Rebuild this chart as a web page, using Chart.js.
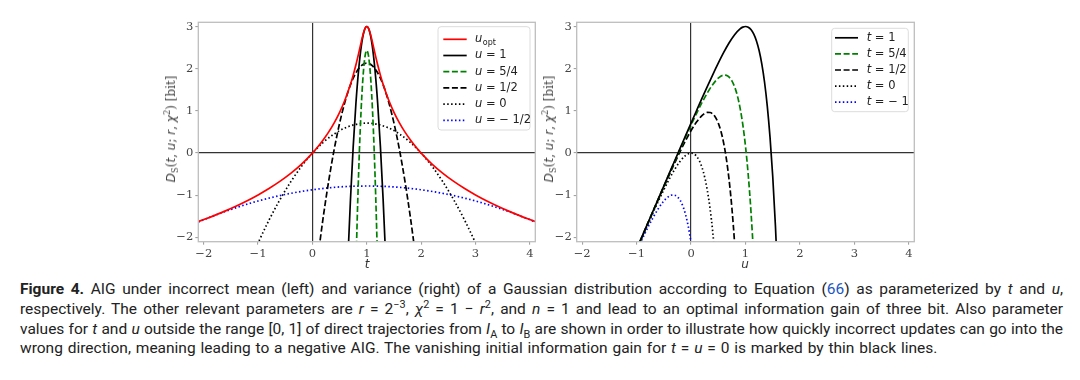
<!DOCTYPE html>
<html><head><meta charset="utf-8">
<script src="https://cdn.jsdelivr.net/npm/chart.js@4.4.1/dist/chart.umd.min.js"></script>
<style>
body{margin:0;width:1080px;height:380px;background:#fff;position:relative;overflow:hidden;}
canvas{position:absolute;top:0;}
.ylab{position:absolute;transform:translate(-50%,-50%) rotate(-90deg);white-space:nowrap;font-family:'DejaVu Serif',serif;font-size:12px;color:#444;}
.ylab i{font-family:'DejaVu Sans',sans-serif;font-style:italic;}
.ylab sub,.ylab sup{font-size:0.7em;line-height:0;}
.xlab{position:absolute;transform:translate(-50%,-50%);font-family:'DejaVu Sans',sans-serif;font-style:italic;font-size:12px;color:#333;}
#cap{position:absolute;left:20px;top:280px;width:1043px;font-family:'Roboto','Liberation Sans',sans-serif;font-size:15.5px;line-height:19.8px;color:#222;}
#cap .ln{text-align:justify;text-align-last:justify;white-space:nowrap;}
#cap .ln.last{text-align-last:left;word-spacing:1px;}
#cap sup,#cap sub{font-size:0.7em;line-height:0;}
#cap .ref{color:#1a56c4;}
</style></head><body>
<canvas id="c1" width="410" height="275" style="left:140px"></canvas>
<canvas id="c2" width="400" height="275" style="left:540px"></canvas>
<div class="ylab" style="left:171px;top:129px"><i>D</i><sub>S</sub>(<i>t</i>, <i>u</i>; <i>r</i>, <i>χ</i><sup>2</sup>) [bit]</div>
<div class="ylab" style="left:549px;top:129px"><i>D</i><sub>S</sub>(<i>t</i>, <i>u</i>; <i>r</i>, <i>χ</i><sup>2</sup>) [bit]</div>
<div class="xlab" style="left:367px;top:263.5px">t</div>
<div class="xlab" style="left:745px;top:263.5px">u</div>
<div id="cap">
<div class="ln"><b>Figure 4.</b> AIG under incorrect mean (left) and variance (right) of a Gaussian distribution according to Equation (<span class="ref">66</span>) as parameterized by <i>t</i> and <i>u</i>,</div>
<div class="ln">respectively. The other relevant parameters are <i>r</i> = 2<sup>−3</sup>, <i>χ</i><sup>2</sup> = 1 − <i>r</i><sup>2</sup>, and <i>n</i> = 1 and lead to an optimal information gain of three bit. Also parameter</div>
<div class="ln">values for <i>t</i> and <i>u</i> outside the range [0, 1] of direct trajectories from <i>I</i><sub>A</sub> to <i>I</i><sub>B</sub> are shown in order to illustrate how quickly incorrect updates can go into the</div>
<div class="ln last">wrong direction, meaning leading to a negative AIG. The vanishing initial information gain for <i>t</i> = <i>u</i> = 0 is marked by thin black lines.</div>
</div>
<script>
// ---------- data: left panel (x = t) ----------
const xTicks = [-2, -1, 0, 1, 2, 3, 4];
const yTicks = [-2, -1, 0, 1, 2, 3];

const uOptT = [-2.1,-2,-1.8,-1.6,-1.4,-1.2,-1,-0.8,-0.6,-0.4,-0.2,0,0.1,0.2,0.3,0.4,0.5,0.6,0.7,0.75,0.8,0.85,0.9,0.92,0.95,0.98,1,1.02,1.05,1.08,1.1,1.15,1.2,1.25,1.3,1.4,1.5,1.6,1.7,1.8,1.9,2,2.2,2.4,2.6,2.8,3,3.2,3.4,3.6,3.8,4,4.1];
const uOptD = [-1.622,-1.575,-1.476,-1.369,-1.254,-1.129,-0.992,-0.840,-0.671,-0.480,-0.260,0,0.149,0.316,0.503,0.717,0.967,1.265,1.631,1.848,2.092,2.363,2.648,2.756,2.895,2.982,3.000,2.982,2.895,2.756,2.648,2.363,2.092,1.848,1.631,1.265,0.967,0.717,0.503,0.316,0.149,0,-0.260,-0.480,-0.671,-0.840,-0.992,-1.129,-1.254,-1.369,-1.476,-1.575,-1.622];

const u1T = [0.65,0.7,0.75,0.8,0.85,0.9,0.95,1,1.05,1.1,1.15,1.2,1.25,1.3,1.35];
const u1D = [-2.567,-1.090,0.160,1.182,1.977,2.546,2.886,3.000,2.886,2.546,1.977,1.182,0.160,-1.090,-2.567];

const u54T = [0.79,0.82,0.85,0.88,0.91,0.94,0.97,1,1.03,1.06,1.09,1.12,1.15,1.18,1.21];
const u54D = [-3.238,-1.734,-0.461,0.580,1.390,1.968,2.315,2.431,2.315,1.968,1.390,0.580,-0.461,-1.734,-3.238];

const u12T = [0.1,0.2,0.3,0.4,0.5,0.6,0.7,0.8,0.9,1,1.1,1.2,1.3,1.4,1.5,1.6,1.7,1.8,1.9];
const u12D = [-2.470,-1.504,-0.652,0.086,0.711,1.222,1.620,1.904,2.074,2.131,2.074,1.904,1.620,1.222,0.711,0.086,-0.652,-1.504,-2.470];

const u0T = [-1.1,-1,-0.8,-0.6,-0.4,-0.2,0,0.2,0.4,0.6,0.8,1,1.2,1.4,1.6,1.8,2,2.2,2.4,2.6,2.8,3,3.1];
const u0D = [-2.421,-2.130,-1.591,-1.108,-0.682,-0.312,0,0.256,0.454,0.596,0.682,0.710,0.682,0.596,0.454,0.256,0,-0.312,-0.682,-1.108,-1.591,-2.130,-2.421];

const uM12T = [-2.1,-2,-1.5,-1,-0.5,0,0.5,1,1.5,2,2.5,3,3.5,4,4.1];
const uM12D = [-1.633,-1.579,-1.335,-1.135,-0.980,-0.869,-0.802,-0.780,-0.802,-0.869,-0.980,-1.135,-1.335,-1.579,-1.633];

// ---------- data: right panel (x = u) ----------
const t1U = [-1,-0.9,-0.8,-0.7,-0.6,-0.5,-0.4,-0.3,-0.2,-0.1,0,0.1,0.2,0.3,0.4,0.5,0.6,0.7,0.8,0.9,0.95,1,1.05,1.1,1.15,1.2,1.25,1.3,1.35,1.4,1.45,1.5,1.55,1.6];
const t1D = [-2.279,-1.979,-1.679,-1.379,-1.080,-0.780,-0.481,-0.182,0.116,0.414,0.710,1.004,1.296,1.582,1.862,2.131,2.385,2.614,2.807,2.945,2.985,3.000,2.983,2.928,2.825,2.664,2.431,2.109,1.679,1.114,0.384,-0.550,-1.734,-3.226];

const t54U = [-1,-0.9,-0.8,-0.7,-0.6,-0.5,-0.4,-0.3,-0.2,-0.1,0,0.1,0.2,0.3,0.4,0.5,0.6,0.65,0.7,0.75,0.8,0.85,0.9,0.95,1,1.05,1.1,1.15,1.2];
const t54D = [-2.280,-1.980,-1.681,-1.382,-1.083,-0.786,-0.489,-0.195,0.097,0.385,0.666,0.937,1.194,1.428,1.628,1.776,1.847,1.841,1.799,1.712,1.571,1.363,1.072,0.678,0.160,-0.514,-1.377,-2.475,-3.861];

const t12U = [-1,-0.9,-0.8,-0.7,-0.6,-0.5,-0.4,-0.3,-0.2,-0.1,0,0.1,0.2,0.25,0.3,0.35,0.4,0.45,0.5,0.55,0.6,0.65,0.7,0.75,0.8,0.85];
const t12D = [-2.282,-1.983,-1.685,-1.389,-1.094,-0.802,-0.514,-0.233,0.039,0.297,0.533,0.735,0.888,0.937,0.964,0.962,0.925,0.845,0.711,0.512,0.232,-0.147,-0.649,-1.301,-2.138,-3.204];

const t0U = [-1,-0.9,-0.8,-0.7,-0.6,-0.5,-0.4,-0.3,-0.2,-0.1,-0.05,0,0.05,0.1,0.15,0.2,0.25,0.3,0.35,0.4,0.45];
const t0D = [-2.290,-1.996,-1.705,-1.418,-1.138,-0.869,-0.615,-0.386,-0.193,-0.055,-0.015,0,-0.017,-0.072,-0.175,-0.336,-0.569,-0.891,-1.321,-1.886,-2.616];

const tM1U = [-1,-0.95,-0.9,-0.8,-0.7,-0.6,-0.5,-0.45,-0.4,-0.35,-0.3,-0.25,-0.2,-0.15,-0.1,-0.05,0,0.05];
const tM1D = [-2.323,-2.184,-2.046,-1.781,-1.534,-1.314,-1.135,-1.068,-1.019,-0.994,-0.998,-1.037,-1.120,-1.257,-1.460,-1.745,-2.130,-2.639];

const leftLabels = ['u_opt', 'u = 1', 'u = 5/4', 'u = 1/2', 'u = 0', 'u = − 1/2'];
const rightLabels = ['t = 1', 't = 5/4', 't = 1/2', 't = 0', 't = − 1'];

// ---------- helpers ----------
const pts = (xs, ys) => xs.map((x, i) => ({x: x, y: ys[i]}));
const DASH = [6, 2.6], DOT = [1.5, 2.4];
function ds(label, xs, ys, color, dash) {
  return {label, data: pts(xs, ys), borderColor: color, borderWidth: 1.7,
    borderDash: dash || [], pointRadius: 0, fill: false,
    cubicInterpolationMode: 'monotone'};
}
const minus = v => v < 0 ? '\u2212' + Math.abs(v) : String(v);

const framePlugin = {
  id: 'frame',
  afterDatasetsDraw(chart) {
    const a = chart.chartArea, c = chart.ctx;
    c.save(); c.strokeStyle = '#bdbdbd'; c.lineWidth = 1.3;
    c.strokeRect(a.left, a.top, a.right - a.left, a.bottom - a.top);
    c.restore();
  }
};
const legendPlugin = {
  id: 'insideLegend',
  afterDatasetsDraw(chart, args, o) {
    const c = chart.ctx, a = chart.chartArea;
    const x0 = a.right - o.right - o.w, y0 = a.top + o.top;
    c.save();
    c.beginPath();
    if (c.roundRect) c.roundRect(x0, y0, o.w, o.h, 3); else c.rect(x0, y0, o.w, o.h);
    c.fillStyle = 'rgba(255,255,255,0.85)'; c.fill();
    c.strokeStyle = '#dcdcdc'; c.lineWidth = 1; c.stroke();
    chart.data.datasets.forEach((d, i) => {
      const cy = y0 + o.row0 + i * o.step;
      c.beginPath(); c.strokeStyle = d.borderColor; c.lineWidth = d.borderWidth;
      c.setLineDash(d.borderDash || []);
      c.moveTo(x0 + o.lx0, cy); c.lineTo(x0 + o.lx1, cy); c.stroke();
      c.setLineDash([]);
      let x = x0 + o.tx;
      c.fillStyle = '#222'; c.textBaseline = 'middle'; c.textAlign = 'left';
      const v = d.label[0];
      c.font = 'italic 11.5px "DejaVu Sans"';
      c.fillText(v, x, cy); x += c.measureText(v).width;
      if (d.label[1] === '_') {
        c.font = '8px "DejaVu Sans"';
        c.fillText(d.label.slice(2), x + 0.5, cy + 3.5);
      } else {
        c.font = '11.5px "DejaVu Sans"';
        c.fillText(d.label.slice(1), x, cy);
      }
    });
    c.restore();
  }
};

function scales(yWidth) {
  const tickFont = {family: 'DejaVu Serif', size: 11.5};
  const grid = {
    color: ctx => (ctx.tick && ctx.tick.value === 0) ? '#333' : 'rgba(0,0,0,0)',
    lineWidth: 1.2, tickColor: '#999', tickLength: 3, tickWidth: 1
  };
  return {
    x: {type: 'linear', min: -2.1, max: 4.1, grid: grid, border: {display: false},
      afterBuildTicks: s => { s.ticks = xTicks.map(v => ({value: v})); },
      afterFit: s => { s.height = 33.3; },
      ticks: {font: tickFont, color: '#444', padding: 2, maxRotation: 0, autoSkip: false, callback: minus}},
    y: {type: 'linear', min: -2.1, max: 3.1, grid: grid, border: {display: false},
      afterBuildTicks: s => { s.ticks = yTicks.map(v => ({value: v})); },
      afterFit: s => { s.width = yWidth; },
      ticks: {font: tickFont, color: '#444', padding: 2, autoSkip: false, callback: minus}}
  };
}

new Chart(document.getElementById('c1'), {
  type: 'line',
  data: {datasets: [
    ds(leftLabels[0], uOptT, uOptD, '#ff0000'),
    ds(leftLabels[1], u1T, u1D, '#000000'),
    ds(leftLabels[2], u54T, u54D, '#008000', DASH),
    ds(leftLabels[3], u12T, u12D, '#000000', DASH),
    ds(leftLabels[4], u0T, u0D, '#000000', DOT),
    ds(leftLabels[5], uM12T, uM12D, '#0000ff', DOT)
  ]},
  options: {
    responsive: false, animation: false, devicePixelRatio: 1,
    layout: {padding: {top: 22.3, right: 14.7, bottom: 0, left: 0}},
    scales: scales(58.3),
    plugins: {legend: {display: false}, tooltip: {enabled: false},
      insideLegend: {right: 5.3, top: 4.4, w: 92, h: 103.3, row0: 12.6, step: 16.2, lx0: 5.3, lx1: 28.7, tx: 37}}
  },
  plugins: [framePlugin, legendPlugin]
});

new Chart(document.getElementById('c2'), {
  type: 'line',
  data: {datasets: [
    ds(rightLabels[0], t1U, t1D, '#000000'),
    ds(rightLabels[1], t54U, t54D, '#008000', DASH),
    ds(rightLabels[2], t12U, t12D, '#000000', DASH),
    ds(rightLabels[3], t0U, t0D, '#000000', DOT),
    ds(rightLabels[4], tM1U, tM1D, '#0000ff', DOT)
  ]},
  options: {
    responsive: false, animation: false, devicePixelRatio: 1,
    layout: {padding: {top: 22.3, right: 25.7, bottom: 0, left: 0}},
    scales: scales(36.7),
    plugins: {legend: {display: false}, tooltip: {enabled: false},
      insideLegend: {right: 6, top: 6, w: 76.6, h: 83.4, row0: 9.5, step: 16.1, lx0: 3.3, lx1: 26.3, tx: 35}}
  },
  plugins: [framePlugin, legendPlugin]
});
</script>
</body></html>
